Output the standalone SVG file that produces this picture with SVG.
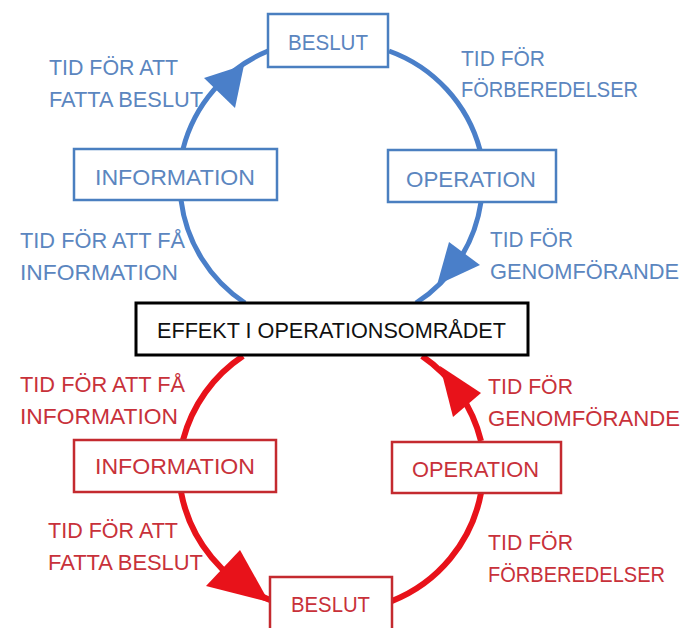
<svg xmlns="http://www.w3.org/2000/svg" width="686" height="628" viewBox="0 0 686 628">
<style>
text{font-family:"Liberation Sans",Arial,sans-serif;font-size:22px;}
.bt{fill:#5b86bf;}
.rt{fill:#c8313a;}
.kt{fill:#111;}
.bb{fill:#fff;stroke:#4a7fc0;stroke-width:2.5;}
.rb{fill:#fff;stroke:#c42a2f;stroke-width:2.5;}
.kb{fill:#fff;stroke:#000;stroke-width:3;}
.ba{fill:none;stroke:#4a7fc9;stroke-width:5;}
.ra{fill:none;stroke:#e8121a;stroke-width:6;}
.bh{fill:#4a7fc9;}
.rh{fill:#e8121a;}
</style>
<rect width="686" height="628" fill="#fff"/>
<g id="connectors">
<path class="ba" d="M183,149 A145,145 0 0 1 268,51"/>
<path class="ba" d="M389,51 A145,145 0 0 1 480,150"/>
<path class="ba" d="M481,202 A145,145 0 0 1 416,303"/>
<path class="ba" d="M245,303 A145,145 0 0 1 181,200"/>
<polygon class="bh" points="244,65 204,78 235,108"/>
<polygon class="bh" points="437,285 449,242 480,265"/>
<path class="ra" d="M243,356 A145,145 0 0 0 183,440"/>
<path class="ra" d="M181,492 A145,145 0 0 0 270,600"/>
<path class="ra" d="M392,601 A145,145 0 0 0 481,493"/>
<path class="ra" d="M481,441 A145,145 0 0 0 422,356"/>
<polygon class="rh" points="269,602 240,550 206,586"/>
<polygon class="rh" points="440,366 481,393 453,417"/>
</g>
<g id="labels-blue">
<text class="bt" x="49" y="75" textLength="129" lengthAdjust="spacingAndGlyphs">TID FÖR ATT</text>
<text class="bt" x="49" y="107" textLength="154" lengthAdjust="spacingAndGlyphs">FATTA BESLUT</text>
<text class="bt" x="461" y="66" textLength="84" lengthAdjust="spacingAndGlyphs">TID FÖR</text>
<text class="bt" x="461" y="97" textLength="177" lengthAdjust="spacingAndGlyphs">FÖRBEREDELSER</text>
<text class="bt" x="20" y="248" textLength="165" lengthAdjust="spacingAndGlyphs">TID FÖR ATT FÅ</text>
<text class="bt" x="20" y="280" textLength="158" lengthAdjust="spacingAndGlyphs">INFORMATION</text>
<text class="bt" x="490" y="247" textLength="83" lengthAdjust="spacingAndGlyphs">TID FÖR</text>
<text class="bt" x="490" y="279" textLength="189" lengthAdjust="spacingAndGlyphs">GENOMFÖRANDE</text>
</g>
<g id="labels-red">
<text class="rt" x="20" y="392" textLength="165" lengthAdjust="spacingAndGlyphs">TID FÖR ATT FÅ</text>
<text class="rt" x="20" y="424" textLength="158" lengthAdjust="spacingAndGlyphs">INFORMATION</text>
<text class="rt" x="488" y="394" textLength="85" lengthAdjust="spacingAndGlyphs">TID FÖR</text>
<text class="rt" x="488" y="426" textLength="192" lengthAdjust="spacingAndGlyphs">GENOMFÖRANDE</text>
<text class="rt" x="48" y="538" textLength="130" lengthAdjust="spacingAndGlyphs">TID FÖR ATT</text>
<text class="rt" x="48" y="570" textLength="155" lengthAdjust="spacingAndGlyphs">FATTA BESLUT</text>
<text class="rt" x="488" y="550" textLength="85" lengthAdjust="spacingAndGlyphs">TID FÖR</text>
<text class="rt" x="488" y="582" textLength="177" lengthAdjust="spacingAndGlyphs">FÖRBEREDELSER</text>
</g>
<g id="beslut-top">
<rect class="bb" x="268" y="14" width="120" height="53"/>
<text class="bt" x="288" y="50" textLength="80" lengthAdjust="spacingAndGlyphs">BESLUT</text>
</g>
<g id="information-top">
<rect class="bb" x="74" y="149" width="203" height="51"/>
<text class="bt" x="95" y="185" textLength="160" lengthAdjust="spacingAndGlyphs">INFORMATION</text>
</g>
<g id="operation-top">
<rect class="bb" x="388" y="150" width="168" height="52"/>
<text class="bt" x="406" y="187" textLength="130" lengthAdjust="spacingAndGlyphs">OPERATION</text>
</g>
<g id="effekt">
<rect class="kb" x="136" y="303" width="392" height="52"/>
<text class="kt" x="157" y="338" textLength="349" lengthAdjust="spacingAndGlyphs">EFFEKT I OPERATIONSOMRÅDET</text>
</g>
<g id="information-bottom">
<rect class="rb" x="74" y="440" width="202" height="52"/>
<text class="rt" x="95" y="474" textLength="160" lengthAdjust="spacingAndGlyphs">INFORMATION</text>
</g>
<g id="operation-bottom">
<rect class="rb" x="392" y="442" width="169" height="51"/>
<text class="rt" x="412" y="477" textLength="127" lengthAdjust="spacingAndGlyphs">OPERATION</text>
</g>
<g id="beslut-bottom">
<rect class="rb" x="270" y="577" width="122" height="56"/>
<text class="rt" x="291" y="612" textLength="79" lengthAdjust="spacingAndGlyphs">BESLUT</text>
</g>
</svg>
